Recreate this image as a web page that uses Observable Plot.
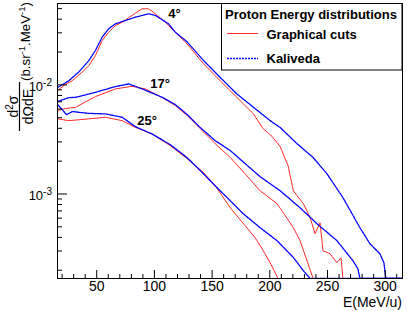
<!DOCTYPE html>
<html><head><meta charset="utf-8">
<script src="https://cdn.jsdelivr.net/npm/d3@7"></script>
<script src="https://cdn.jsdelivr.net/npm/@observablehq/plot@0.6"></script>
<style>
html,body{margin:0;padding:0;background:#fff;}
#chart{width:407px;height:311px;}
svg{font-family:"Liberation Sans",Arial,sans-serif;}
</style></head><body><div id="chart"></div>
<script>
// ---- data (E in MeV/u, d2sigma/dOmega dE in b/sr/MeV; 0 = empty bin) ----
const E_R4 = [16.0,22.9,28.7,37.4,43.1,48.9,54.7,60.4,66.2,72.0,80.6,89.3,95.0,100.8,109.4,118.1,128.2,142.6,157.0,171.4,185.8,194.2,202.0,209.0,215.8,220.4,223.6,229.1,234.9,239.2,243.5,246.1,252.2,258.2,261.7,263.4,265];
const V_R4 = [0.00887,0.0101,0.0109,0.0131,0.0150,0.0186,0.0255,0.0304,0.0350,0.0375,0.0433,0.0498,0.0498,0.0448,0.0375,0.0304,0.0238,0.0156,0.0109,0.00769,0.00542,0.00397,0.00336,0.00272,0.00182,0.00107,0.000964,0.000815,0.000610,0.000432,0.000545,0.000302,0.000283,0.000234,0.000260,0,0];
const E_B4 = [16.0,25.8,34.4,43.1,48.9,54.7,60.4,66.2,74.8,83.5,95.0,100.8,112.3,118.1,128.2,142.6,157.0,171.4,185.8,200.3,209.0,223.6,237.5,249.6,263.4,278.1,286.8,295.4,298.9,300.6,315];
const V_B4 = [0.00945,0.0109,0.0131,0.0167,0.0207,0.0274,0.0327,0.0363,0.0389,0.0417,0.0448,0.0433,0.0363,0.0304,0.0249,0.0167,0.0117,0.00827,0.00623,0.00470,0.00406,0.00289,0.00216,0.00153,0.000925,0.000491,0.000350,0.000283,0.000234,0,0];
const E_R17 = [16.0,22.9,31.6,48.9,66.2,80.6,92.1,106.8,118.1,128.5,139.7,152.7,165.7,178.6,191.6,206.3,220.4,226.2,232.3,237.5,265];
const V_R17 = [0.00581,0.00607,0.00623,0.00781,0.00919,0.00971,0.00919,0.00764,0.00646,0.00523,0.00397,0.00289,0.00216,0.00153,0.00107,0.000815,0.000491,0.000373,0.000244,0,0];
const E_B17 = [16.0,25.5,31.6,48.9,66.2,77.7,89.3,106.8,118.1,128.5,139.7,152.7,165.7,178.6,191.6,209.0,226.2,240.9,258.2,272.1,276.4,278.1,315];
const V_B17 = [0.00703,0.00764,0.00769,0.00855,0.00965,0.0102,0.00919,0.00769,0.00660,0.00534,0.00406,0.00308,0.00250,0.00190,0.00144,0.00107,0.000748,0.000534,0.000373,0.000244,0.000206,0,0];
const E_R25 = [16.0,25.8,43.1,57.5,72.0,83.5,97.9,113.8,128.2,142.6,152.7,165.7,178.6,187.3,193.3,200.3,207.2,265];
const V_R25 = [0.00488,0.00470,0.00488,0.00505,0.00470,0.00408,0.00355,0.00277,0.00211,0.00157,0.00119,0.000748,0.000512,0.000397,0.000315,0.000234,0,0];
const E_B25 = [16.0,19.5,23.8,29.0,43.1,57.5,72.0,83.5,97.9,113.8,128.2,139.7,150.9,163.9,176.9,191.6,206.3,220.4,229.1,234.9,315];
const V_B25 = [0.00660,0.00603,0.00534,0.00569,0.00548,0.00542,0.00505,0.00414,0.00355,0.00283,0.00216,0.00164,0.00124,0.000906,0.000660,0.000491,0.000373,0.000262,0.000198,0,0];

const angleText = ["4°","17°","25°"];
const angleE = [112, 96.4, 85.2];
const angleV = [0.0414, 0.00945, 0.00432];

const xMajor = [50,100,150,200,250,300];
const xMinor = [20,30,40,60,70,80,90,110,120,130,140,160,170,180,190,210,220,230,240,260,270,280,290,310];
const yMajor = [1e-3, 1e-2];
const yMajorExp = ["-3","-2"];
const yMinor = [2e-4,3e-4,4e-4,5e-4,6e-4,7e-4,8e-4,9e-4,2e-3,3e-3,4e-3,5e-3,6e-3,7e-3,8e-3,9e-3,2e-2,3e-2,4e-2,5e-2];
const xDomain = [16, 315];
const yDomain = [1.68e-4, 0.0557];

const legendTitle = "Proton Energy distributions";
const seriesNames = ["Graphical cuts","Kaliveda"];

// ---- build ----
const RED = "#ff2a2a", BLUE = "#0000ff";
const BLUE_DASH = "2,1";
function rows(E, V) { return E.map((e, i) => ({E: e, v: V[i] > 0 ? V[i] : yDomain[0]})); }
const redOpt = {x: "E", y: "v", stroke: RED, strokeWidth: 1, clip: true};
const blueOpt = {x: "E", y: "v", stroke: BLUE, strokeWidth: 1.3, strokeDasharray: BLUE_DASH, clip: true};
const labels = angleText.map((t, i) => ({t, E: angleE[i], v: angleV[i]}));

const plot = Plot.plot({
  width: 407, height: 311,
  marginLeft: 57, marginRight: 5, marginTop: 3, marginBottom: 33,
  x: {domain: xDomain},
  y: {type: "log", domain: yDomain},
  style: {fontFamily: '"Liberation Sans", Arial, sans-serif', color: "black", background: "white", overflow: "visible"},
  marks: [
    Plot.line(rows(E_R4, V_R4), redOpt),
    Plot.line(rows(E_R17, V_R17), redOpt),
    Plot.line(rows(E_R25, V_R25), redOpt),
    Plot.line(rows(E_B4, V_B4), blueOpt),
    Plot.line(rows(E_B17, V_B17), blueOpt),
    Plot.line(rows(E_B25, V_B25), blueOpt),
    Plot.frame({stroke: "black", strokeWidth: 1}),
    Plot.axisY({ticks: yMajor, tickSize: 10, dx: 10, tickFormat: () => "", label: null}),
    Plot.axisY({ticks: yMinor, tickSize: 5, dx: 5, tickFormat: () => "", label: null}),
    Plot.axisX({ticks: xMajor, tickSize: 8, dy: -8, tickFormat: () => "", label: null}),
    Plot.axisX({ticks: xMinor, tickSize: 4, dy: -4, tickFormat: () => "", label: null}),
    Plot.axisX({ticks: xMajor, tickSize: 0, tickPadding: 3, fontSize: 14, label: null}),
    Plot.text(labels, {x: "E", y: "v", text: "t", textAnchor: "start", lineAnchor: "bottom", fontSize: 13, fontWeight: "bold", fill: "black"})
  ]
});
document.getElementById("chart").appendChild(plot);

const svg = d3.select(plot);
const ys = plot.scale("y");
const FONT = '"Liberation Sans", Arial, sans-serif';

// y tick labels 10^n
yMajor.forEach((val, i) => {
  const t = svg.append("text").attr("x", 52).attr("y", ys.apply(val) + 6.5)
    .attr("text-anchor", "end").attr("font-size", 13).attr("font-family", FONT).attr("fill", "black");
  t.append("tspan").text("10");
  t.append("tspan").attr("dy", -5).attr("font-size", 10).text(yMajorExp[i]);
});

// x title
svg.append("text").attr("x", 402).attr("y", 307).attr("text-anchor", "end")
  .attr("font-size", 14).attr("font-family", FONT).attr("fill", "black").text("E(MeV/u)");

// y title (rotated)
const gT = svg.append("g").attr("transform", "translate(33,0) rotate(-90)")
  .attr("font-family", FONT).attr("fill", "black").attr("font-size", 14);
gT.append("text").attr("x", -106.5).attr("y", -0.5).attr("text-anchor", "middle").text("dΩdE");
const num = gT.append("text").attr("x", -106.5).attr("y", -15.5).attr("text-anchor", "middle");
num.append("tspan").text("d");
num.append("tspan").attr("dy", -5).attr("font-size", 10).text("2");
num.append("tspan").attr("dy", 5).text("σ");
gT.append("line").attr("x1", -131).attr("x2", -82).attr("y1", -13.5).attr("y2", -13.5)
  .attr("stroke", "black").attr("stroke-width", 1.2);
const un = gT.append("text").attr("x", -81).attr("y", -3).attr("text-anchor", "start").attr("font-size", 13.3);
un.append("tspan").text("(b.sr");
un.append("tspan").attr("dy", -5).attr("font-size", 9.5).text("-1");
un.append("tspan").attr("dy", 5).text(".MeV");
un.append("tspan").attr("dy", -5).attr("font-size", 9.5).text("-1");
un.append("tspan").attr("dy", 5).text(")");

// legend
const lg = svg.append("g").attr("font-family", FONT).attr("font-weight", "bold").attr("font-size", 13)
  .attr("text-anchor", "start");
lg.append("rect").attr("x", 221.5).attr("y", 3.5).attr("width", 180.5).attr("height", 66.5)
  .attr("fill", "white").attr("stroke", "black").attr("stroke-width", 1);
lg.append("text").attr("x", 225).attr("y", 18.5).attr("fill", "black").text(legendTitle);
lg.append("line").attr("x1", 227).attr("x2", 258).attr("y1", 33.5).attr("y2", 33.5)
  .attr("stroke", RED).attr("stroke-width", 1);
lg.append("text").attr("x", 266.5).attr("y", 38.5).attr("fill", "black").text(seriesNames[0]);
lg.append("line").attr("x1", 227).attr("x2", 258).attr("y1", 58.5).attr("y2", 58.5)
  .attr("stroke", BLUE).attr("stroke-width", 1.3).attr("stroke-dasharray", BLUE_DASH);
lg.append("text").attr("x", 266.5).attr("y", 62.5).attr("fill", "black").text(seriesNames[1]);
</script></body></html>
